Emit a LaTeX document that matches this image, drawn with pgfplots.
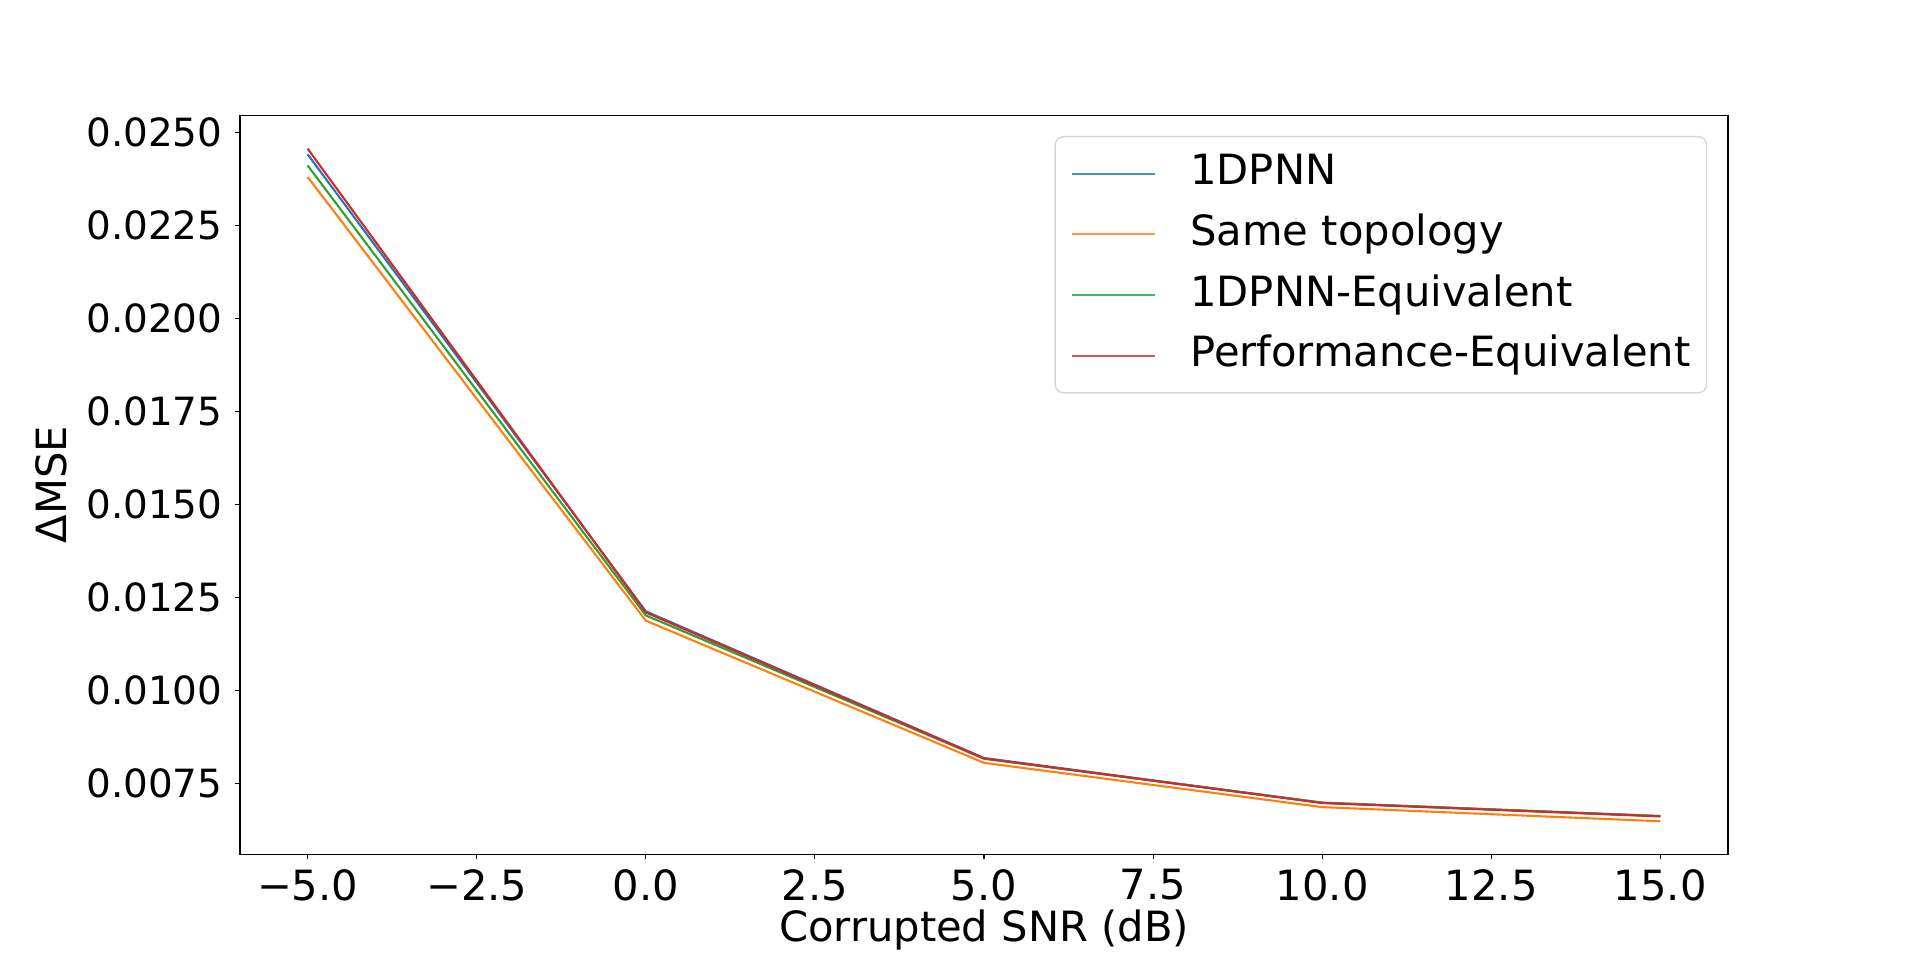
\documentclass[border=0pt]{standalone}
\usepackage{fontspec}
\setmainfont{DejaVu Sans}
\usepackage{pgfplots}
\pgfplotsset{compat=1.18}
\definecolor{c0}{HTML}{1F77B4}
\definecolor{c1}{HTML}{FF7F0E}
\definecolor{c2}{HTML}{2CA02C}
\definecolor{c3}{HTML}{D62728}
\definecolor{legedge}{gray}{0.8}
\begin{document}
\begin{tikzpicture}
\begin{axis}[
  name=ax,
  scale only axis,
  width=1071.36pt, height=532.22pt,
  xmin=-6, xmax=16,
  ymin=0.00560, ymax=0.02546,
  axis line style={line width=0.8pt},
  tick align=outside,
  tick pos=left,
  major tick length=3.5pt,
  every tick/.style={black, line width=0.8pt},
  minor tick num=0,
  font=\fontsize{30}{36}\selectfont,
  xtick={-5,-2.5,0,2.5,5,7.5,10,12.5,15},
  xticklabels={−5.0,−2.5,0.0,2.5,5.0,7.5,10.0,12.5,15.0},
  ytick={0.0075,0.0100,0.0125,0.0150,0.0175,0.0200,0.0225,0.0250},
  yticklabels={0.0075,0.0100,0.0125,0.0150,0.0175,0.0200,0.0225,0.0250},
  scaled y ticks=false,
  xticklabel style={inner sep=0pt, anchor=north, yshift=-7pt},
  yticklabel style={inner sep=0pt, anchor=east, xshift=-9pt, font=\fontsize{28}{34}\selectfont},
  xlabel={Corrupted SNR (dB)},
  ylabel={ΔMSE},
  every axis x label/.style={at={(axis description cs:0.5,-0.1023)}, anchor=center, inner sep=0pt},
  every axis y label/.style={at={(axis description cs:-0.1270,0.5)}, anchor=center, rotate=90, inner sep=0pt},
  legend cell align=left,
  legend image code/.code={\draw[#1] (0pt,0pt) -- (59.76pt,0pt);},
  legend style={
    at={(0.98602,0.97186)}, anchor=north east,
    draw=legedge, line width=1pt, rounded corners=6pt,
    fill=white, fill opacity=0.8, draw opacity=0.8, text opacity=1,
    inner xsep=11.6pt, inner ysep=8pt,
    row sep=6.4pt,
    nodes={inner sep=0pt, text height=26.7pt, text depth=10.6pt, rounded corners=0pt},
    /tikz/every odd column/.append style={column sep=24.5pt},
    font=\fontsize{30}{36}\selectfont,
  },
]
\addplot[c0, line width=1.5pt] coordinates {(-5,0.02441) (0,0.01213) (5,0.00819) (10,0.00699) (15,0.00663)};
\addlegendentry{1DPNN}
\addplot[c1, line width=1.5pt] coordinates {(-5,0.02380) (0,0.01188) (5,0.00806) (10,0.00687) (15,0.00649)};
\addlegendentry{Same topology}
\addplot[c2, line width=1.5pt] coordinates {(-5,0.02411) (0,0.01202) (5,0.00817) (10,0.00699) (15,0.00663)};
\addlegendentry{1DPNN-Equivalent}
\addplot[c3, line width=1.5pt] coordinates {(-5,0.02456) (0,0.01210) (5,0.00818) (10,0.00698) (15,0.00662)};
\addlegendentry{Performance-Equivalent}
\end{axis}
\path[use as bounding box] ([shift={(-172.8pt,-76.03pt)}]ax.south west) rectangle ([shift={(138.24pt,82.94pt)}]ax.north east);
\end{tikzpicture}
\end{document}
